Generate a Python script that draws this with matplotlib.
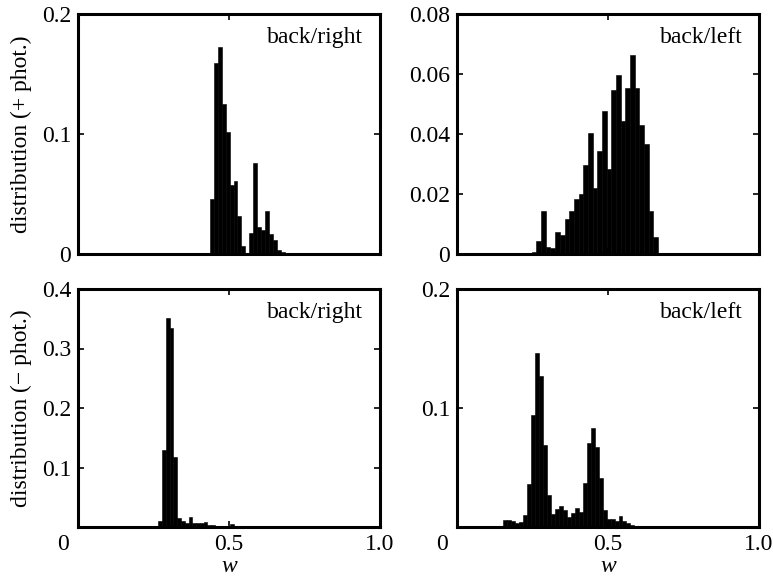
import numpy as np
import matplotlib as mpl
mpl.use('Agg')
import matplotlib.pyplot as plt

plt.rcParams['font.family'] = ['Liberation Serif', 'DejaVu Serif']
plt.rcParams['font.size'] = 17

# top-left: back/right, + phot.
tl_start, tl_width = 0.437, 0.013
tl_heights = [0.046, 0.159, 0.1725, 0.125, 0.102, 0.0575, 0.061, 0.032, 0.007, 0.001,
              0.0175, 0.076, 0.0225, 0.020, 0.036, 0.0167, 0.0117, 0.003, 0.002, 0.001]

# top-right: back/left, + phot.
tr_start, tr_width = 0.232, 0.0155
tr_heights = [0.0005, 0.0008, 0.0043, 0.0143, 0.0023, 0.002, 0.0073, 0.0063, 0.0117, 0.0143,
              0.0183, 0.020, 0.0297, 0.0403, 0.022, 0.0343, 0.0477, 0.0283, 0.0547, 0.0597,
              0.0443, 0.0553, 0.0663, 0.0553, 0.043, 0.0367, 0.0143, 0.0057, 0.0005]
tr_extra_x, tr_extra_h = [0.159], [0.0003]

# bottom-left: back/right, - phot.
bl_start, bl_width = 0.266, 0.0125
bl_heights = [0.01, 0.129, 0.351, 0.334, 0.118, 0.015, 0.01, 0.006, 0.017, 0.007,
              0.006, 0.007, 0.008, 0.003, 0.003, 0.002, 0.001, 0.001, 0.0, 0.005]

# bottom-right: back/left, - phot.
br_start, br_width = 0.152, 0.0132
br_heights = [0.0059, 0.006, 0.005, 0.0036, 0.004, 0.010, 0.036, 0.094, 0.1465, 0.127,
              0.069, 0.027, 0.011, 0.015, 0.018, 0.014, 0.0087, 0.012, 0.016, 0.013,
              0.037, 0.0709, 0.083, 0.0675, 0.041, 0.014, 0.007, 0.007, 0.005, 0.009,
              0.005, 0.003, 0.002, 0.001, 0.001, 0.001, 0.001]

xtick_vals = [0.5, 1.0]
xtick_labels = ['0.5', '1.0']


def edges(start, width, n):
    return start + width * np.arange(n)


fig = plt.figure(figsize=(7.73, 5.8), dpi=100)
W = 302 / 773
axes_pos = {
    'tl': [78 / 773, 1 - 254 / 580, W, 240 / 580],
    'tr': [457 / 773, 1 - 254 / 580, W, 240 / 580],
    'bl': [78 / 773, 1 - 527 / 580, W, 238 / 580],
    'br': [457 / 773, 1 - 527 / 580, W, 238 / 580],
}

panels = [
    ('tl', tl_start, tl_width, tl_heights, 0.2, [0, 0.1, 0.2], ['0', '0.1', '0.2'], 'back/right'),
    ('tr', tr_start, tr_width, tr_heights, 0.08, [0, 0.02, 0.04, 0.06, 0.08],
     ['0', '0.02', '0.04', '0.06', '0.08'], 'back/left'),
    ('bl', bl_start, bl_width, bl_heights, 0.4, [0.1, 0.2, 0.3, 0.4], ['0.1', '0.2', '0.3', '0.4'], 'back/right'),
    ('br', br_start, br_width, br_heights, 0.2, [0.1, 0.2], ['0.1', '0.2'], 'back/left'),
]

for key, start, width, heights, ymax, yt, ytl, label in panels:
    ax = fig.add_axes(axes_pos[key])
    x = edges(start, width, len(heights))
    ax.bar(x, heights, width=width, align='edge', color='black', edgecolor='black', linewidth=0.4)
    if key == 'tr':
        ax.bar(tr_extra_x, tr_extra_h, width=width, align='edge', color='black')
    ax.set_xlim(0, 1.0)
    ax.set_ylim(0, ymax)
    ax.set_yticks(yt)
    ax.set_yticklabels(ytl)
    ax.set_xticks(xtick_vals)
    for s in ax.spines.values():
        s.set_linewidth(2.2)
    ax.tick_params(direction='in', length=4, width=1.2, top=True, right=True, pad=5, labelsize=17)
    ax.text(0.945, 0.945, label, transform=ax.transAxes, ha='right', va='top', fontsize=17)
    if key in ('tl', 'tr'):
        ax.set_xticklabels([])
    else:
        ax.set_xticklabels(xtick_labels)
        ax.annotate('0', xy=(0, 0), xycoords=('data', 'axes fraction'),
                    xytext=(-11, -5), textcoords='offset points',
                    ha='center', va='top', fontsize=17)
        ax.set_xlabel('w', fontstyle='italic', fontsize=17, labelpad=0.5)
    if key == 'tl':
        ax.set_ylabel('distribution (+ phot.)', fontsize=17, labelpad=7)
    if key == 'bl':
        ax.set_ylabel('distribution (\u2212 phot.)', fontsize=17, labelpad=7)

fig.savefig('out.png', dpi=100)
